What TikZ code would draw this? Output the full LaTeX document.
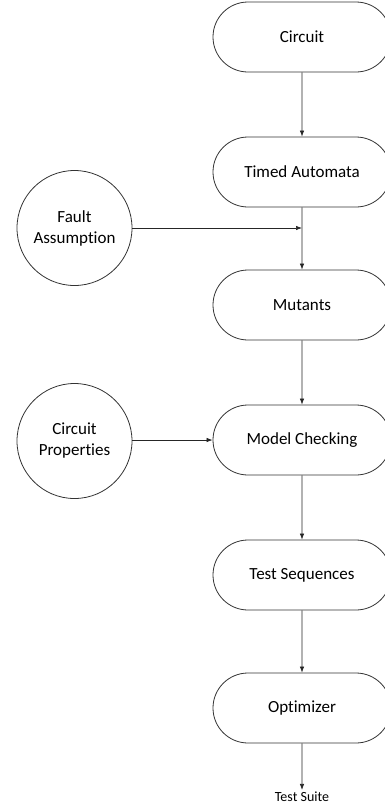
\documentclass[tikz,border=0pt]{standalone}
\usepackage{fontspec}
\setmainfont[Ligatures=NoCommon]{Carlito}
\usetikzlibrary{arrows.meta,shapes.misc}
\begin{document}
\begin{tikzpicture}[x=1pt,y=-1pt,
  stad/.style={draw=black!80,line width=0.8pt,rounded rectangle,minimum width=178pt,minimum height=70pt,inner sep=0pt,font=\fontsize{17}{20}\selectfont},
  circ/.style={draw=black!80,line width=0.8pt,circle,minimum size=115pt,inner sep=0pt,align=center,font=\fontsize{17}{21}\selectfont},
  arr/.style={draw=black!85,line width=0.7pt,-{Latex[length=6pt,width=4.5pt]}}]
\useasboundingbox (0,0) rectangle (384,807);
\node[stad] (c) at (302,37) {Circuit};
\node[stad] (ta) at (302,172) {Timed Automata};
\node[stad] (m) at (302,305) {Mutants};
\node[stad] (mc) at (302,440) {Model Checking};
\node[stad] (ts) at (302,575) {Test Sequences};
\node[stad] (o) at (302,708) {Optimizer};
\node[circ] (fa) at (74.5,228) {Fault\\Assumption};
\node[circ] (cp) at (74.5,441) {Circuit\\Properties};
\node[font=\fontsize{14}{16}\selectfont,inner sep=2pt] (suite) at (302,797) {Test Suite};
\coordinate (j) at (302,228);
\draw[arr] (c) -- (ta);
\draw[arr] (ta) -- (m);
\draw[arr] (fa.east |- j) -- (j);
\draw[arr] (m) -- (mc);
\draw[arr] (cp.east |- mc) -- (mc);
\draw[arr] (mc) -- (ts);
\draw[arr] (ts) -- (o);
\draw[arr] (o) -- (suite);
\end{tikzpicture}
\end{document}
